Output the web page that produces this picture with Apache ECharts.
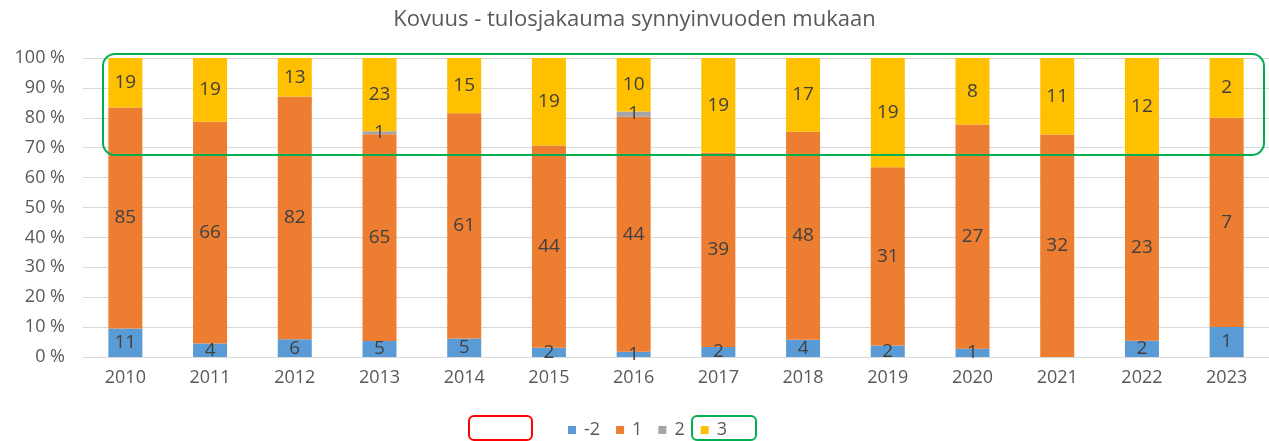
<!DOCTYPE html>
<html>
<head>
<meta charset="utf-8">
<script src="https://cdn.jsdelivr.net/npm/echarts@6/dist/echarts.min.js"></script>
<style>
  html, body { margin: 0; padding: 0; background: #fff; }
  #chart { width: 1269px; height: 441px; }
</style>
</head>
<body>
<div id="chart"></div>
<script>
// vuodet
const years = ['2010', '2011', '2012', '2013', '2014', '2015', '2016', '2017', '2018', '2019', '2020', '2021', '2022', '2023']
// lukumäärät tuloksittain
const countMinus2 = [11, 4, 6, 5, 5, 2, 1, 2, 4, 2, 1, 0, 2, 1]
const count1 = [85, 66, 82, 65, 61, 44, 44, 39, 48, 31, 27, 32, 23, 7]
const count2 = [0, 0, 0, 1, 0, 0, 1, 0, 0, 0, 0, 0, 0, 0]
const count3 = [19, 19, 13, 23, 15, 19, 10, 19, 17, 19, 8, 11, 12, 2]
const yTicks = [0, 10, 20, 30, 40, 50, 60, 70, 80, 90, 100]

const totals = years.map((_, i) => countMinus2[i] + count1[i] + count2[i] + count3[i])
const textFont = '"Open Sans", "Noto Sans", sans-serif'

// 100 % pinottu sarja
const makeSeries = (name, counts, color) => ({
  name,
  type: 'bar',
  stack: 'total',
  barWidth: 34,
  itemStyle: { color },
  data: counts.map((c, i) => ({ value: c / totals[i] * 100, count: c })),
  label: {
    show: true,
    position: 'inside',
    color: '#404040',
    fontSize: 19,
    fontFamily: textFont,
    formatter: p => (p.data.count ? String(p.data.count) : '')
  }
})

const chart = echarts.init(document.getElementById('chart'))
chart.setOption({
  animation: false,
  title: {
    text: 'Kovuus - tulosjakauma synnyinvuoden mukaan',
    left: 'center',
    top: 4,
    textStyle: { color: '#595959', fontSize: 22, fontWeight: 'normal', fontFamily: textFont }
  },
  legend: {
    left: 563,
    top: 416,
    itemWidth: 8,
    itemHeight: 8,
    itemGap: 16,
    icon: 'rect',
    textStyle: { color: '#595959', fontSize: 18, fontFamily: textFont, padding: [0, 0, 0, 3] },
    data: ['-2', '1', '2', '3']
  },
  grid: { left: 83, right: 0, top: 58, bottom: 84 },
  xAxis: {
    type: 'category',
    data: years,
    axisLine: { lineStyle: { color: '#d9d9d9' } },
    axisTick: { show: false },
    axisLabel: { color: '#595959', fontSize: 18, fontFamily: textFont, margin: 12 }
  },
  yAxis: {
    type: 'value',
    min: yTicks[0],
    max: yTicks[yTicks.length - 1],
    interval: yTicks[1] - yTicks[0],
    axisLabel: { color: '#595959', fontSize: 18, fontFamily: textFont, formatter: '{value} %', margin: 18 },
    splitLine: { lineStyle: { color: '#d9d9d9', width: 1 } }
  },
  series: [
    makeSeries('-2', countMinus2, '#5B9BD5'),
    makeSeries('1', count1, '#ED7D31'),
    makeSeries('2', count2, '#A5A5A5'),
    makeSeries('3', count3, '#FFC000')
  ],
  graphic: [
    {
      type: 'rect',
      shape: { x: 103, y: 54, width: 1161, height: 101, r: 12 },
      style: { fill: 'none', stroke: '#00B050', lineWidth: 2 },
      z: 100
    },
    {
      type: 'rect',
      shape: { x: 469, y: 416, width: 63, height: 24, r: 5 },
      style: { fill: 'none', stroke: '#FF0000', lineWidth: 2 },
      z: 100
    },
    {
      type: 'rect',
      shape: { x: 692, y: 416, width: 64, height: 24, r: 5 },
      style: { fill: 'none', stroke: '#00B050', lineWidth: 2 },
      z: 100
    }
  ]
})
</script>
</body>
</html>
